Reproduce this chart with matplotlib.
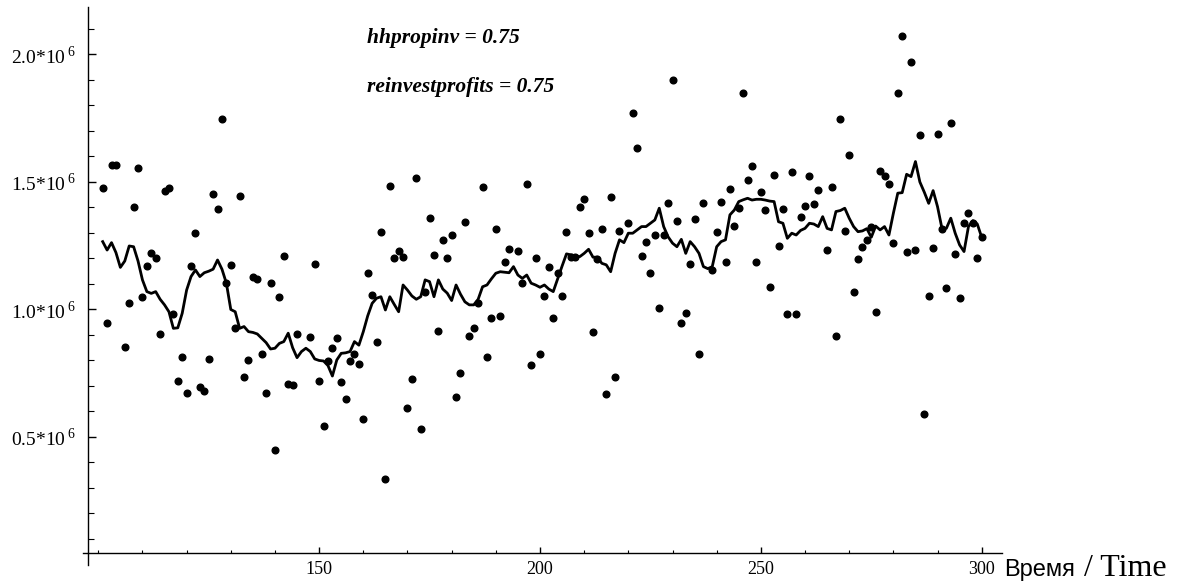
import numpy as np
import matplotlib
matplotlib.use("Agg")
import matplotlib.pyplot as plt

plt.rcParams['mathtext.fontset'] = 'custom'
plt.rcParams['mathtext.rm'] = 'Liberation Serif'

# scatter: time step -> value (in millions)
pts_t = [101, 102, 103, 104, 106, 107, 108, 109, 110, 111, 112, 113, 114, 115, 116, 117, 118, 119, 120,
         121, 122, 123, 124, 125, 126, 127, 128, 129, 130, 131, 132, 133, 134, 135, 136, 137, 138, 139, 140,
         141, 142, 143, 144, 145, 148, 149, 150, 151, 152, 153, 154, 155, 156, 157, 158, 159, 160,
         161, 162, 163, 164, 165, 166, 167, 168, 169, 170, 171, 172, 173, 174, 175, 176, 177, 178, 179, 180,
         181, 182, 183, 184, 185, 186, 187, 188, 189, 190, 191, 192, 193, 195, 196, 197, 198, 199, 200,
         201, 202, 203, 204, 205, 206, 207, 208, 209, 210, 211, 212, 213, 214, 215, 216, 217, 218, 220,
         221, 222, 223, 224, 225, 226, 227, 228, 229, 230, 231, 232, 233, 234, 235, 236, 237, 239, 240,
         241, 242, 243, 244, 245, 246, 247, 248, 249, 250, 251, 252, 253, 254, 255, 256, 257, 258, 259, 260,
         261, 262, 263, 265, 266, 267, 268, 269, 270, 271, 272, 273, 274, 275, 276, 277, 278, 279, 280,
         281, 282, 283, 284, 285, 286, 287, 288, 289, 290, 291, 292, 293, 294, 295, 296, 297, 298, 299, 300]
pts_v = [1.475, 0.948, 1.567, 1.567, 0.852, 1.027, 1.403, 1.555, 1.05, 1.169, 1.223, 1.2, 0.903, 1.466, 1.475,
         0.981, 0.72, 0.815, 0.673,
         1.169, 1.299, 0.697, 0.682, 0.806, 1.453, 1.393, 1.747, 1.103, 1.175, 0.929, 1.444, 0.737, 0.801,
         1.129, 1.118, 0.824, 0.673, 1.104, 0.448,
         1.05, 1.21, 0.709, 0.705, 0.903, 0.893, 1.178, 0.72, 0.544, 0.798, 0.848, 0.89, 0.714, 0.65, 0.797,
         0.824, 0.788, 0.572,
         1.142, 1.056, 0.871, 1.303, 0.336, 1.485, 1.2, 1.231, 1.205, 0.613, 0.727, 1.517, 0.53, 1.067, 1.358,
         1.214, 0.916, 1.273, 1.2, 1.292,
         0.658, 0.751, 1.344, 0.896, 0.929, 1.024, 1.482, 0.814, 0.967, 1.316, 0.976, 1.188, 1.237, 1.229,
         1.103, 1.491, 0.782, 1.2, 0.824,
         1.053, 1.165, 0.965, 1.142, 1.054, 1.303, 1.207, 1.207, 1.403, 1.435, 1.299, 0.911, 1.198, 1.314,
         0.667, 1.44, 0.737, 1.308, 1.34,
         1.769, 1.633, 1.21, 1.266, 1.142, 1.292, 1.007, 1.292, 1.416, 1.9, 1.348, 0.948, 0.985, 1.178, 1.354,
         0.824, 1.416, 1.155, 1.303,
         1.422, 1.188, 1.473, 1.329, 1.397, 1.85, 1.508, 1.564, 1.188, 1.462, 1.389, 1.087, 1.527, 1.25, 1.394,
         0.981, 1.54, 0.981, 1.362, 1.407,
         1.522, 1.414, 1.467, 1.233, 1.482, 0.897, 1.747, 1.308, 1.606, 1.067, 1.197, 1.246, 1.273, 1.325,
         0.989, 1.543, 1.524, 1.491, 1.261,
         1.848, 2.074, 1.224, 1.972, 1.233, 1.684, 0.589, 1.054, 1.242, 1.688, 1.314, 1.083, 1.733, 1.218,
         1.044, 1.34, 1.377, 1.34, 1.2, 1.283]

# line (moving level), one value per step 101..300 (in millions)
line_t = list(range(101, 301))
line_v = [1.266, 1.233, 1.262, 1.223, 1.165, 1.19, 1.249, 1.246, 1.19, 1.116,
          1.07, 1.063, 1.07, 1.04, 1.018, 0.991, 0.926, 0.928, 0.985, 1.076,
          1.129, 1.155, 1.129, 1.144, 1.15, 1.158, 1.194, 1.158, 1.103, 1.0,
          0.991, 0.926, 0.933, 0.913, 0.91, 0.904, 0.887, 0.87, 0.845, 0.848,
          0.867, 0.874, 0.907, 0.85, 0.811, 0.835, 0.848, 0.835, 0.806, 0.8,
          0.798, 0.78, 0.739, 0.802, 0.828, 0.83, 0.835, 0.874, 0.86, 0.913,
          0.975, 1.024, 1.044, 1.05, 0.998, 1.05, 1.02, 0.991, 1.096, 1.076,
          1.053, 1.04, 1.05, 1.116, 1.109, 1.05, 1.116, 1.08, 1.064, 1.035,
          1.096, 1.06, 1.03, 1.018, 1.018, 1.04, 1.089, 1.096, 1.12, 1.142,
          1.148, 1.146, 1.144, 1.168, 1.135, 1.122, 1.135, 1.103, 1.096, 1.087,
          1.096, 1.08, 1.07, 1.12, 1.17, 1.218, 1.214, 1.21, 1.207, 1.22,
          1.236, 1.205, 1.205, 1.181, 1.175, 1.148, 1.22, 1.273, 1.262, 1.299,
          1.299, 1.312, 1.325, 1.325, 1.338, 1.351, 1.397, 1.325, 1.285, 1.26,
          1.246, 1.275, 1.22, 1.266, 1.246, 1.22, 1.168, 1.16, 1.168, 1.246,
          1.266, 1.273, 1.371, 1.39, 1.423, 1.43, 1.436, 1.429, 1.432, 1.432,
          1.429, 1.425, 1.423, 1.344, 1.338, 1.279, 1.299, 1.292, 1.31, 1.318,
          1.338, 1.335, 1.325, 1.364, 1.318, 1.312, 1.384, 1.388, 1.397, 1.358,
          1.325, 1.305, 1.308, 1.317, 1.283, 1.327, 1.312, 1.325, 1.292, 1.377,
          1.456, 1.458, 1.53, 1.521, 1.58, 1.50, 1.46, 1.416, 1.466, 1.403,
          1.318, 1.318, 1.358, 1.299, 1.253, 1.227, 1.325, 1.348, 1.335, 1.283]

ytick_vals = [0.5, 1.0, 1.5, 2.0]
ytick_labels = [r'$\mathrm{%.1f{*}10}^{\,6}$' % v for v in ytick_vals]
xtick_vals = [150, 200, 250, 300]

fig = plt.figure(figsize=(11.86, 5.88), dpi=100)
ax = fig.add_axes([0.0702, 0.0391, 0.7743, 0.949])

ax.plot(line_t, np.array(line_v) * 1e6, color='black', lw=2.0, zorder=2)
ax.plot(pts_t, np.array(pts_v) * 1e6, 'o', color='black', ms=4.8, zorder=3)

ax.set_xlim(96.6, 304.5)
ax.set_ylim(-0.002e6, 2.186e6)

ax.spines['top'].set_visible(False)
ax.spines['right'].set_visible(False)
ax.spines['left'].set_position(('data', 97.74))
ax.spines['bottom'].set_position(('data', 0.045e6))
ax.spines['left'].set_linewidth(1.0)
ax.spines['bottom'].set_linewidth(1.0)

ax.set_xticks(xtick_vals)
ax.set_xticks(np.arange(100, 301, 10), minor=True)
ax.set_xticklabels([str(v) for v in xtick_vals], fontfamily='Liberation Serif', fontsize=13)
ax.set_yticks([v * 1e6 for v in ytick_vals])
ax.set_yticks(np.arange(0.1, 2.15, 0.1) * 1e6, minor=True)
ax.set_yticklabels(ytick_labels, fontsize=14)

ax.tick_params(axis='x', which='major', direction='in', length=4.5, width=1, pad=6)
ax.tick_params(axis='x', which='minor', direction='in', length=2.5, width=0.8)
ax.tick_params(axis='y', which='major', direction='in', length=6, width=1, pad=9)
ax.tick_params(axis='y', which='minor', direction='in', length=4, width=0.8)

fig.text(366.7 / 1186, 1 - 42.7 / 588, 'hhpropinv = 0.75', fontfamily='Liberation Serif',
         fontstyle='italic', fontweight='bold', fontsize=15.5, va='baseline')
fig.text(366.7 / 1186, 1 - 91.7 / 588, 'reinvestprofits = 0.75', fontfamily='Liberation Serif',
         fontstyle='italic', fontweight='bold', fontsize=15.5, va='baseline')

fig.text(1004 / 1186, 1 - 576 / 588, 'Время', fontfamily='Liberation Sans', fontsize=17, va='baseline')
fig.text(1084 / 1186, 1 - 576 / 588, '/ Time', fontfamily='Liberation Serif', fontsize=23, va='baseline')

fig.savefig('out.png', dpi=100)
